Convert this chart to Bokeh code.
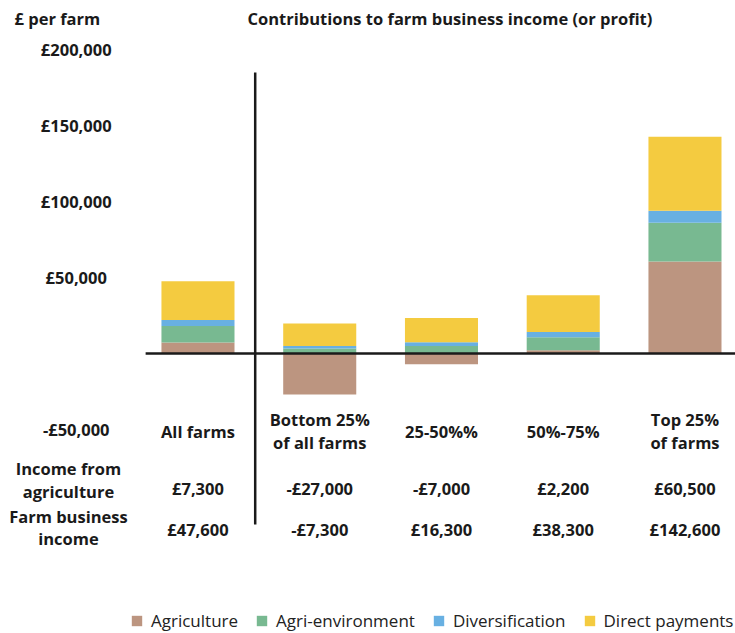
import numpy as np
from bokeh.plotting import figure
from bokeh.models import Range1d, ColumnDataSource, Legend, LegendItem
from bokeh.core.properties import value
from bokeh.embed import file_html
from bokeh.resources import INLINE

# ---------------- data ----------------
categories = ["All farms", "Bottom 25%\nof all farms", "25-50%%", "50%-75%", "Top 25%\nof farms"]
agriculture = [7300, -27000, -7000, 2200, 60500]
agri_environment = [10800, 3300, 5000, 8500, 25500]
diversification = [4000, 1600, 2400, 3500, 7900]
direct_payments = [25500, 14800, 15900, 24100, 48700]
income_from_agriculture = [7300, -27000, -7000, 2200, 60500]
farm_business_income = [47600, -7300, 16300, 38300, 142600]
y_tick_values = [200000, 150000, 100000, 50000, -50000]
y_tick_labels = ["£200,000", "£150,000", "£100,000", "£50,000", "-£50,000"]
series_names = ["Agriculture", "Agri-environment", "Diversification", "Direct payments"]
series_colors = ["#BC9580", "#78B991", "#68B0E2", "#F4CB40"]
row_labels = ["Income from\nagriculture", "Farm business\nincome"]
title_text = "Contributions to farm business income (or profit)"
unit_text = "£ per farm"

FONT = value("Open Sans")
TXT = "#1a1a1a"


def money(v):
    return ("-£" if v < 0 else "£") + f"{abs(v):,}"


x = np.arange(len(categories))

p = figure(width=735, height=633, output_backend="svg", toolbar_location=None,
           x_range=Range1d(-1.622, 4.415), y_range=Range1d(-184211, 232237),
           x_axis_type=None, y_axis_type=None, min_border=0,
           outline_line_color=None, background_fill_color="white",
           border_fill_color="white")

# stacked bars (positives up from zero, negatives down from zero)
pos_base = np.zeros(len(categories))
neg_base = np.zeros(len(categories))
renderers = []
for name, vals, col in zip(series_names,
                           [agriculture, agri_environment, diversification, direct_payments],
                           series_colors):
    vals = np.array(vals, dtype=float)
    bottom = np.where(vals >= 0, pos_base, neg_base + vals)
    top = np.where(vals >= 0, pos_base + vals, neg_base)
    pos_base = pos_base + np.where(vals >= 0, vals, 0)
    neg_base = neg_base + np.where(vals < 0, vals, 0)
    src = ColumnDataSource(dict(x=x, bottom=bottom, top=top))
    r = p.vbar(x="x", bottom="bottom", top="top", width=0.6, source=src,
               fill_color=col, line_color=None)
    renderers.append((name, r))

# zero line and divider
p.segment(x0=[-0.43], x1=[4.5], y0=[0], y1=[0], line_color=TXT, line_width=2.5)
p.segment(x0=[0.47], x1=[0.47], y0=[184868], y1=[-112500], line_color=TXT, line_width=2.5)

common = dict(text_font=FONT, text_font_style="bold", text_font_size="16.5px",
              text_color=TXT, text_baseline="middle")

# y labels
p.text(x=[-1.0] * len(y_tick_values), y=y_tick_values, text=y_tick_labels,
       text_align="center", **common)

# header texts
p.text(x=[-1.507], y=[220395], text=[unit_text], text_align="left", **common)
p.text(x=[0.407], y=[220395], text=[title_text], text_align="left", **common)

# category labels
p.text(x=x, y=[-51000] * len(categories), text=categories, text_align="center",
       text_line_height=0.97, **common)

# row labels
p.text(x=[-1.064, -1.064], y=[-83224, -114474], text=row_labels, text_align="center",
       text_line_height=0.97, **common)

# value rows
p.text(x=x, y=[-88800] * len(categories), text=[money(v) for v in income_from_agriculture],
       text_align="center", **common)
p.text(x=x, y=[-115800] * len(categories), text=[money(v) for v in farm_business_income],
       text_align="center", **common)

legend = Legend(items=[LegendItem(label=n, renderers=[r]) for n, r in renderers],
                orientation="horizontal", location=(130, 1),
                label_text_font="Open Sans", label_text_font_size="17px",
                label_text_color="#222222", glyph_width=13, glyph_height=13,
                label_standoff=8, spacing=17, padding=0, margin=0,
                border_line_color=None, background_fill_alpha=0)
p.add_layout(legend)

open("out.html", "w").write(file_html(p, INLINE))
